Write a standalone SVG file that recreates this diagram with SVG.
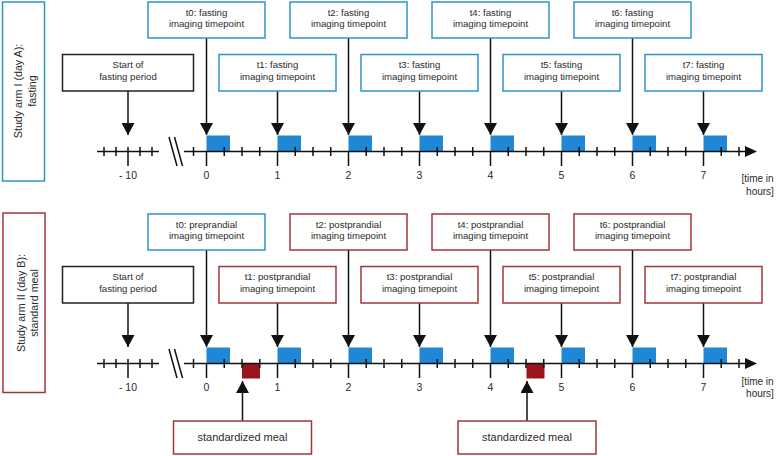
<svg xmlns="http://www.w3.org/2000/svg" width="776" height="456" viewBox="0 0 776 456">
<defs>
<style>
text{font-family:"Liberation Sans",Arial,sans-serif;fill:#2b2b2b;text-anchor:middle}
.t{font-size:9.6px}
.lab{font-size:10.7px}
.num{font-size:10.5px}
.meal{font-size:11px}
.bb{fill:#fff;stroke:#3194c9;stroke-width:1.5}
.rb{fill:#fff;stroke:#a2343d;stroke-width:1.5}
.kb{fill:#fff;stroke:#222;stroke-width:1.5}
.ln{stroke:#111;stroke-width:1.5;fill:none}
.ar{stroke:#111;stroke-width:1.5;fill:none;marker-end:url(#ah)}
.blue{fill:#1f87d3}
.red{fill:#9a151c}
</style>
<marker id="ah" viewBox="0 0 12 13" refX="12" refY="6.5" markerWidth="12" markerHeight="13" markerUnits="userSpaceOnUse" orient="auto">
<path d="M0,0 L12,6.5 L0,13 z" fill="#111"/>
</marker>
</defs>
<rect width="776" height="456" fill="#fff"/>

<!-- Study arm labels -->
<g id="armA">
<rect x="2.5" y="2" width="42" height="179" class="bb"/>
<text class="lab" transform="translate(22,91) rotate(-90)">Study arm I (day A):</text>
<text class="lab" transform="translate(36,91) rotate(-90)">fasting</text>
</g>
<g id="armB">
<rect x="3" y="213" width="42" height="179.5" class="rb"/>
<text class="lab" transform="translate(25,303) rotate(-90)">Study arm II (day B):</text>
<text class="lab" transform="translate(37.5,303) rotate(-90)">standard meal</text>
</g>

<!-- Timeline A -->
<g id="timelineA">
<rect class="blue" x="206.5" y="135.5" width="23.5" height="16"/>
<rect class="blue" x="277.5" y="135.5" width="23.5" height="16"/>
<rect class="blue" x="348.5" y="135.5" width="23.5" height="16"/>
<rect class="blue" x="419.5" y="135.5" width="23.5" height="16"/>
<rect class="blue" x="490.5" y="135.5" width="23.5" height="16"/>
<rect class="blue" x="561.5" y="135.5" width="23.5" height="16"/>
<rect class="blue" x="632.5" y="135.5" width="23.5" height="16"/>
<rect class="blue" x="703.5" y="135.5" width="23.5" height="16"/>
<path class="ln" d="M97,151.5 H159 M104,147 V156 M116,147 V156 M140,147 V156 M152,147 V156 M128,147 V166"/>
<path class="ln" d="M169,137 L177,166 M174.5,137 L182.5,166"/>
<path class="ln" d="M184,151.5 H747"/>
<polygon points="745,146 757,151.5 745,157" fill="#111"/>
<path class="ln" d="M193.5,147 V156 M224.25,147 V156 M242,147 V156 M259.75,147 V156 M295.25,147 V156 M313,147 V156 M330.75,147 V156 M366.25,147 V156 M384,147 V156 M401.75,147 V156 M437.25,147 V156 M455,147 V156 M472.75,147 V156 M508.25,147 V156 M526,147 V156 M543.75,147 V156 M579.25,147 V156 M597,147 V156 M614.75,147 V156 M650.25,147 V156 M668,147 V156 M685.75,147 V156 M721.25,147 V156 M739,147 V156"/>
<path class="ln" d="M206.5,151 V166 M277.5,151 V166 M348.5,151 V166 M419.5,151 V166 M490.5,151 V166 M561.5,151 V166 M632.5,151 V166 M703.5,151 V166"/>
<text class="num" x="128" y="179">- 10</text>
<text class="num" x="206.5" y="179">0</text>
<text class="num" x="277.5" y="179">1</text>
<text class="num" x="348.5" y="179">2</text>
<text class="num" x="419.5" y="179">3</text>
<text class="num" x="490.5" y="179">4</text>
<text class="num" x="561.5" y="179">5</text>
<text class="num" x="632.5" y="179">6</text>
<text class="num" x="703.5" y="179">7</text>
<text class="num" style="font-size:10px" x="757.5" y="182">[time in</text>
<text class="num" style="font-size:10px" x="760" y="194.5">hours]</text>
</g>

<!-- Timeline B -->
<g id="timelineB">
<rect class="blue" x="206.5" y="347.5" width="23.5" height="16"/>
<rect class="blue" x="277.5" y="347.5" width="23.5" height="16"/>
<rect class="blue" x="348.5" y="347.5" width="23.5" height="16"/>
<rect class="blue" x="419.5" y="347.5" width="23.5" height="16"/>
<rect class="blue" x="490.5" y="347.5" width="23.5" height="16"/>
<rect class="blue" x="561.5" y="347.5" width="23.5" height="16"/>
<rect class="blue" x="632.5" y="347.5" width="23.5" height="16"/>
<rect class="blue" x="703.5" y="347.5" width="23.5" height="16"/>
<rect class="red" x="242" y="363.5" width="18" height="15"/>
<rect class="red" x="526.5" y="363.5" width="18" height="15"/>
<path class="ln" d="M97,363.5 H159 M104,359 V368 M116,359 V368 M140,359 V368 M152,359 V368 M128,359 V378"/>
<path class="ln" d="M169,349 L177,378 M174.5,349 L182.5,378"/>
<path class="ln" d="M184,363.5 H747"/>
<polygon points="745,358 757,363.5 745,369" fill="#111"/>
<path class="ln" d="M193.5,359 V368 M224.25,359 V368 M242,359 V368 M259.75,359 V368 M295.25,359 V368 M313,359 V368 M330.75,359 V368 M366.25,359 V368 M384,359 V368 M401.75,359 V368 M437.25,359 V368 M455,359 V368 M472.75,359 V368 M508.25,359 V368 M526,359 V368 M543.75,359 V368 M579.25,359 V368 M597,359 V368 M614.75,359 V368 M650.25,359 V368 M668,359 V368 M685.75,359 V368 M721.25,359 V368 M739,359 V368"/>
<path class="ln" d="M206.5,363 V378 M277.5,363 V378 M348.5,363 V378 M419.5,363 V378 M490.5,363 V378 M561.5,363 V378 M632.5,363 V378 M703.5,363 V378"/>
<text class="num" x="128" y="391">- 10</text>
<text class="num" x="206.5" y="391">0</text>
<text class="num" x="277.5" y="391">1</text>
<text class="num" x="348.5" y="391">2</text>
<text class="num" x="419.5" y="391">3</text>
<text class="num" x="490.5" y="391">4</text>
<text class="num" x="561.5" y="391">5</text>
<text class="num" x="632.5" y="391">6</text>
<text class="num" x="703.5" y="391">7</text>
<text class="num" style="font-size:10px" x="757.5" y="384.5">[time in</text>
<text class="num" style="font-size:10px" x="760" y="397">hours]</text>
</g>

<!-- Connectors -->
<g id="connectors">
<line class="ar" x1="128" y1="91" x2="128" y2="135"/>
<line class="ar" x1="206.5" y1="38" x2="206.5" y2="135"/>
<line class="ar" x1="277.5" y1="91" x2="277.5" y2="135"/>
<line class="ar" x1="348.5" y1="38" x2="348.5" y2="135"/>
<line class="ar" x1="419.5" y1="91" x2="419.5" y2="135"/>
<line class="ar" x1="490.5" y1="38" x2="490.5" y2="135"/>
<line class="ar" x1="561.5" y1="91" x2="561.5" y2="135"/>
<line class="ar" x1="632.5" y1="38" x2="632.5" y2="135"/>
<line class="ar" x1="703.5" y1="91" x2="703.5" y2="135"/>
<line class="ar" x1="128" y1="303" x2="128" y2="347"/>
<line class="ar" x1="206.5" y1="250" x2="206.5" y2="347"/>
<line class="ar" x1="277.5" y1="303" x2="277.5" y2="347"/>
<line class="ar" x1="348.5" y1="250" x2="348.5" y2="347"/>
<line class="ar" x1="419.5" y1="303" x2="419.5" y2="347"/>
<line class="ar" x1="490.5" y1="250" x2="490.5" y2="347"/>
<line class="ar" x1="561.5" y1="303" x2="561.5" y2="347"/>
<line class="ar" x1="632.5" y1="250" x2="632.5" y2="347"/>
<line class="ar" x1="703.5" y1="303" x2="703.5" y2="347"/>
<line class="ar" x1="242.5" y1="421" x2="242.5" y2="381"/>
<line class="ar" x1="527" y1="421" x2="527" y2="381"/>
</g>

<!-- Nodes arm A -->
<g id="startA"><rect class="kb" x="62.5" y="54.5" width="131" height="36.5"/><text class="t" x="128" y="68.4">Start of</text><text class="t" x="128" y="79.8">fasting period</text></g>
<g id="A_t0"><rect class="bb" x="148" y="2" width="117" height="36"/><text class="t" x="206.5" y="16.1">t0: fasting</text><text class="t" x="206.5" y="27.2">imaging timepoint</text></g>
<g id="A_t2"><rect class="bb" x="290" y="2" width="117" height="36"/><text class="t" x="348.5" y="16.1">t2: fasting</text><text class="t" x="348.5" y="27.2">imaging timepoint</text></g>
<g id="A_t4"><rect class="bb" x="432" y="2" width="117" height="36"/><text class="t" x="490.5" y="16.1">t4: fasting</text><text class="t" x="490.5" y="27.2">imaging timepoint</text></g>
<g id="A_t6"><rect class="bb" x="574" y="2" width="117" height="36"/><text class="t" x="632.5" y="16.1">t6: fasting</text><text class="t" x="632.5" y="27.2">imaging timepoint</text></g>
<g id="A_t1"><rect class="bb" x="219" y="54.5" width="117" height="36.5"/><text class="t" x="277.5" y="68.4">t1: fasting</text><text class="t" x="277.5" y="79.8">imaging timepoint</text></g>
<g id="A_t3"><rect class="bb" x="361" y="54.5" width="117" height="36.5"/><text class="t" x="419.5" y="68.4">t3: fasting</text><text class="t" x="419.5" y="79.8">imaging timepoint</text></g>
<g id="A_t5"><rect class="bb" x="503" y="54.5" width="117" height="36.5"/><text class="t" x="561.5" y="68.4">t5: fasting</text><text class="t" x="561.5" y="79.8">imaging timepoint</text></g>
<g id="A_t7"><rect class="bb" x="645" y="54.5" width="117" height="36.5"/><text class="t" x="703.5" y="68.4">t7: fasting</text><text class="t" x="703.5" y="79.8">imaging timepoint</text></g>

<!-- Nodes arm B -->
<g id="startB"><rect class="kb" x="62.5" y="266.5" width="131" height="36.5"/><text class="t" x="128" y="280.4">Start of</text><text class="t" x="128" y="291.8">fasting period</text></g>
<g id="B_t0"><rect class="bb" x="148" y="214" width="117" height="36"/><text class="t" x="206.5" y="228.1">t0: preprandial</text><text class="t" x="206.5" y="239.2">imaging timepoint</text></g>
<g id="B_t2"><rect class="rb" x="290" y="214" width="117" height="36"/><text class="t" x="348.5" y="228.1">t2: postprandial</text><text class="t" x="348.5" y="239.2">imaging timepoint</text></g>
<g id="B_t4"><rect class="rb" x="432" y="214" width="117" height="36"/><text class="t" x="490.5" y="228.1">t4: postprandial</text><text class="t" x="490.5" y="239.2">imaging timepoint</text></g>
<g id="B_t6"><rect class="rb" x="574" y="214" width="117" height="36"/><text class="t" x="632.5" y="228.1">t6: postprandial</text><text class="t" x="632.5" y="239.2">imaging timepoint</text></g>
<g id="B_t1"><rect class="rb" x="219" y="266.5" width="117" height="36.5"/><text class="t" x="277.5" y="280.4">t1: postprandial</text><text class="t" x="277.5" y="291.8">imaging timepoint</text></g>
<g id="B_t3"><rect class="rb" x="361" y="266.5" width="117" height="36.5"/><text class="t" x="419.5" y="280.4">t3: postprandial</text><text class="t" x="419.5" y="291.8">imaging timepoint</text></g>
<g id="B_t5"><rect class="rb" x="503" y="266.5" width="117" height="36.5"/><text class="t" x="561.5" y="280.4">t5: postprandial</text><text class="t" x="561.5" y="291.8">imaging timepoint</text></g>
<g id="B_t7"><rect class="rb" x="645" y="266.5" width="117" height="36.5"/><text class="t" x="703.5" y="280.4">t7: postprandial</text><text class="t" x="703.5" y="291.8">imaging timepoint</text></g>
<g id="meal1"><rect class="rb" x="173.5" y="421" width="138" height="33"/><text class="meal" x="242.5" y="440.5">standardized meal</text></g>
<g id="meal2"><rect class="rb" x="458" y="421" width="138" height="33"/><text class="meal" x="527" y="440.5">standardized meal</text></g>
</svg>
